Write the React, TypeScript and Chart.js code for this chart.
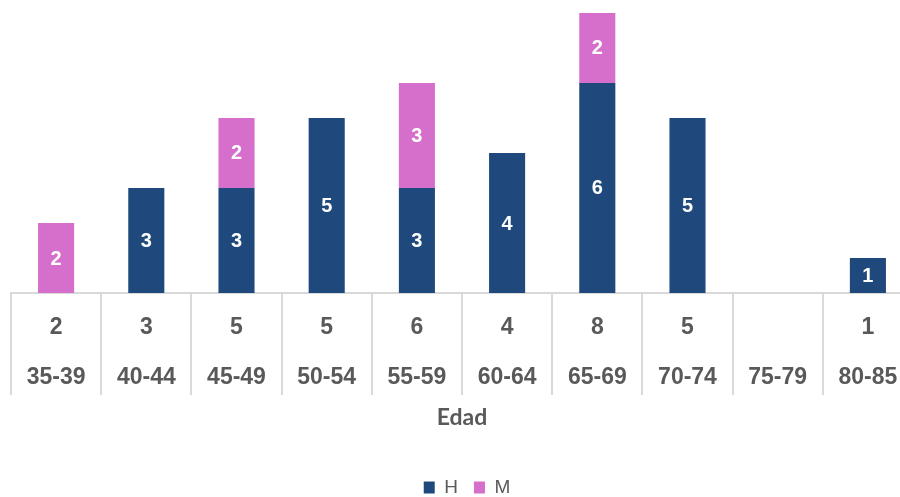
import React, { useEffect, useRef } from "react";
import { Chart, registerables } from "chart.js";

Chart.register(...registerables);

const CATEGORIES = ["35-39", "40-44", "45-49", "50-54", "55-59", "60-64", "65-69", "70-74", "75-79", "80-85"];
const H_VALUES = [0, 3, 3, 5, 3, 4, 6, 5, 0, 1];
const M_VALUES = [2, 0, 2, 0, 3, 0, 2, 0, 0, 0];
const TOTALS = ["2", "3", "5", "5", "6", "4", "8", "5", "", "1"];
const AXIS_TITLE = "Edad";

const barLabels = {
  id: "barLabels",
  afterDatasetsDraw(chart: any) {
    const ctx = chart.ctx;
    ctx.save();
    ctx.fillStyle = "#ffffff";
    ctx.font = "bold 20px 'Liberation Sans', Arial, sans-serif";
    ctx.textAlign = "center";
    ctx.textBaseline = "middle";
    chart.data.datasets.forEach((ds: any, di: number) => {
      const meta = chart.getDatasetMeta(di);
      if (meta.hidden) return;
      meta.data.forEach((el: any, i: number) => {
        const v = ds.data[i];
        if (!v) return;
        ctx.fillText(String(v), el.x, (el.y + el.base) / 2 + 1);
      });
    });
    ctx.restore();
  },
};

const legendShift = {
  id: "legendShift",
  afterLayout(chart: any) {
    if (chart.legend) {
      chart.legend.left += 5;
      chart.legend.right += 5;
    }
  },
};

export default function App() {
  const ref = useRef<HTMLCanvasElement | null>(null);
  useEffect(() => {
    if (!ref.current) return;
    const chart = new Chart(ref.current, {
      type: "bar",
      data: {
        labels: CATEGORIES,
        datasets: [
          { label: "H", data: H_VALUES, backgroundColor: "#1F497D", barPercentage: 0.4, categoryPercentage: 1 },
          { label: "M", data: M_VALUES, backgroundColor: "#D66FCB", barPercentage: 0.4, categoryPercentage: 1 },
        ],
      },
      options: {
        responsive: false,
        animation: false,
        layout: { padding: { left: 11, right: 2, top: 0, bottom: 0 } },
        plugins: {
          tooltip: { enabled: false },
          legend: {
            position: "bottom",
            labels: {
              color: "#595959",
              font: { family: "'Liberation Sans', Arial, sans-serif", size: 19 },
              boxWidth: 11,
              boxHeight: 12,
              padding: 16,
            },
          },
        },
        scales: {
          x: {
            stacked: true,
            offset: true,
            grid: {
              display: true,
              offset: true,
              drawOnChartArea: false,
              drawTicks: true,
              tickLength: 102,
              color: "#d9d9d9",
              lineWidth: 2,
            },
            border: { display: true, color: "#d9d9d9", width: 2 },
            ticks: {
              autoSkip: false,
              maxRotation: 0,
              minRotation: 0,
              padding: -92,
              color: "#595959",
              font: { family: "'Liberation Sans', Arial, sans-serif", size: 23, weight: "bold", lineHeight: "50px" },
              callback: (_v: any, i: number) => [TOTALS[i], CATEGORIES[i]],
            },
            title: {
              display: true,
              text: AXIS_TITLE,
              color: "#595959",
              font: { family: "Lato, sans-serif", size: 23, weight: "bold" },
              padding: { top: 0, bottom: 31 },
            },
            afterFit: (scale: any) => {
              scale.height = 169;
            },
          },
          y: {
            stacked: true,
            display: false,
            min: 0,
            max: 8.37,
          },
        },
      },
      plugins: [barLabels, legendShift],
    });
    return () => chart.destroy();
  }, []);
  return (
    <div style={{ position: "fixed", left: 0, top: 0, width: 900, height: 497, overflow: "hidden", background: "#fff" }}>
      <canvas ref={ref} width={915} height={507} style={{ display: "block", width: 915, height: 507 }} />
    </div>
  );
}
